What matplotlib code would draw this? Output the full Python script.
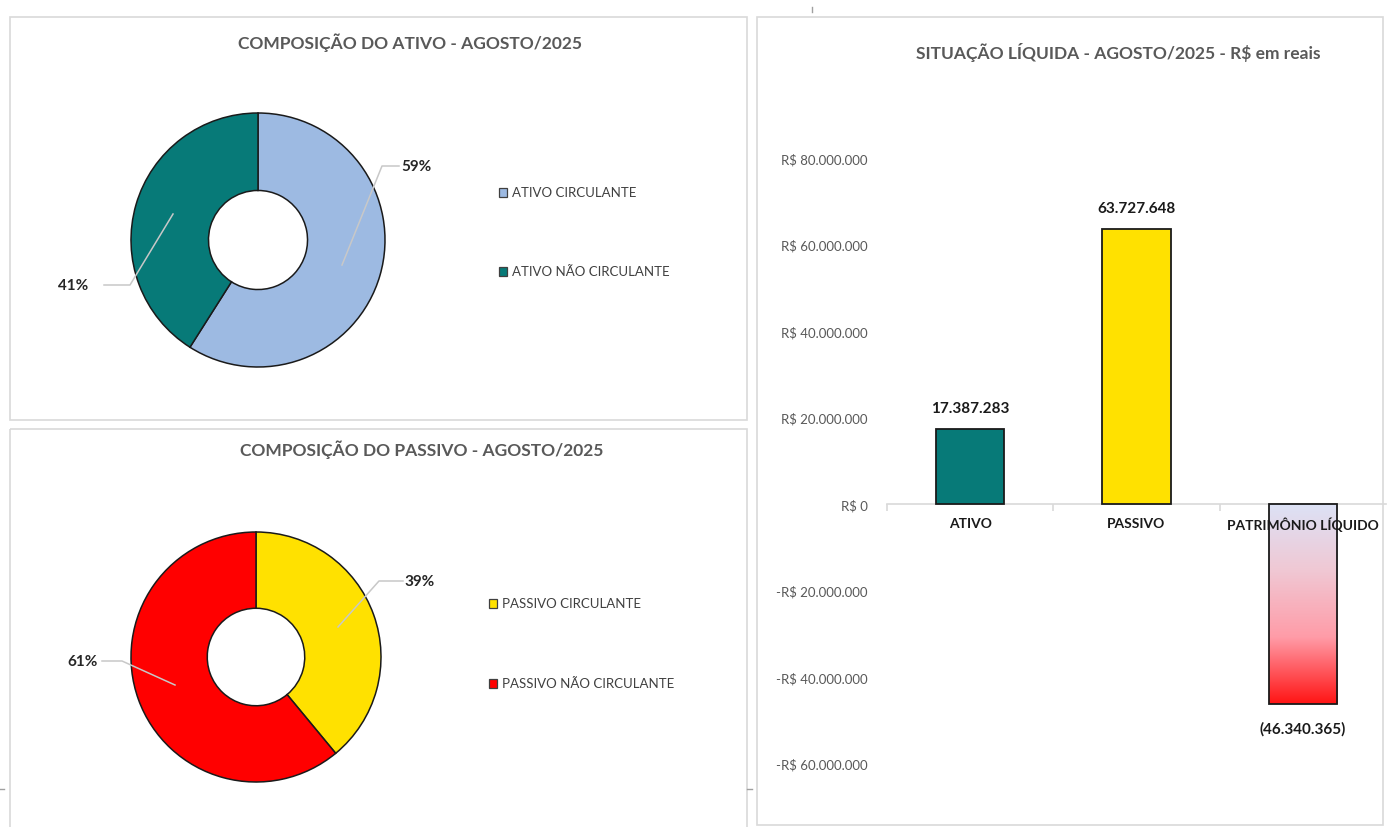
import numpy as np
import matplotlib
matplotlib.use("Agg")
import matplotlib.pyplot as plt
from matplotlib.patches import Rectangle
from matplotlib.colors import LinearSegmentedColormap

# ---------------- data ----------------
ativo_labels = ["ATIVO CIRCULANTE", "ATIVO NÃO CIRCULANTE"]
ativo_share = [59, 41]
ativo_colors = ["#9DBAE2", "#077A78"]

passivo_labels = ["PASSIVO CIRCULANTE", "PASSIVO NÃO CIRCULANTE"]
passivo_share = [39, 61]
passivo_colors = ["#FFE100", "#FF0000"]

bar_categories = ["ATIVO", "PASSIVO", "PATRIMÔNIO LÍQUIDO"]
bar_values = [17387283, 63727648, -46340365]
bar_value_labels = ["17.387.283", "63.727.648", "(46.340.365)"]
bar_colors = ["#077A78", "#FFE100", None]

yticks = [-60e6, -40e6, -20e6, 0, 20e6, 40e6, 60e6, 80e6]

title_ativo = "COMPOSIÇÃO DO ATIVO - AGOSTO/2025"
title_passivo = "COMPOSIÇÃO DO PASSIVO - AGOSTO/2025"
title_bar = "SITUAÇÃO LÍQUIDA - AGOSTO/2025 - R$ em reais"

FAM = ["Lato", "DejaVu Sans"]
plt.rcParams["font.family"] = FAM

W, H = 1388, 828
fig = plt.figure(figsize=(W / 100, H / 100), dpi=100)


def add_axes_px(x0, y0, x1, y1):
    return fig.add_axes([x0 / W, 1 - y1 / H, (x1 - x0) / W, (y1 - y0) / H])


# ---------------- background / panels ----------------
bg = add_axes_px(0, 0, W, H)
bg.set_xlim(0, W)
bg.set_ylim(H, 0)
bg.axis("off")
border = "#D9D9D9"
bg.add_patch(Rectangle((10, 18), 737, 403, fill=False, ec=border, lw=1.2))
bg.add_patch(Rectangle((10, 430), 737, 420, fill=False, ec=border, lw=1.2))
bg.add_patch(Rectangle((757, 18), 626, 808, fill=False, ec=border, lw=1.2))
bg.plot([812, 812], [8, 13], color="#A0A0A0", lw=1)
bg.plot([0, 4], [790, 790], color="#A0A0A0", lw=1)
bg.plot([747, 752], [790, 790], color="#A0A0A0", lw=1)

TITLE_C = "#595959"
TS = 12.5
bg.text(410, 43, title_ativo, ha="center", va="center", fontsize=TS,
        fontweight="bold", color=TITLE_C)
bg.text(422, 450, title_passivo, ha="center", va="center", fontsize=TS,
        fontweight="bold", color=TITLE_C)
bg.text(1118, 52, title_bar, ha="center", va="center", fontsize=TS,
        fontweight="bold", color=TITLE_C)

donut_axes = []


def donut(panel, center, radius, shares, colors, labels):
    px0, py0, px1, py1 = panel
    cx, cy = center
    ax = add_axes_px(px0, py0, px1, py1)
    ax.pie(shares, colors=colors, startangle=90, counterclock=False,
           radius=1.0,
           wedgeprops=dict(width=0.61, edgecolor="#1A1A1A", linewidth=1.1))
    ax.set_xlim((px0 - cx) / radius, (px1 - cx) / radius)
    ax.set_ylim(-(py1 - cy) / radius, (cy - py0) / radius)
    ax.set_aspect("auto")
    ax.axis("off")
    return ax


donut((10, 60, 480, 421), (258, 241), 127, ativo_share, ativo_colors,
      ativo_labels)
donut((10, 470, 480, 828), (256, 658), 125, passivo_share, passivo_colors,
      passivo_labels)

# ---------------- overlay for labels / legends ----------------
ov = add_axes_px(0, 0, W, H)
ov.set_xlim(0, W)
ov.set_ylim(H, 0)
ov.axis("off")
ov.patch.set_alpha(0)


def pct_labels(shares, lab_pos, leader_pts):
    for s, (lx, ly), pts in zip(shares, lab_pos, leader_pts):
        ov.plot([p[0] for p in pts], [p[1] for p in pts], color="#C8C8C8",
                lw=1.1, zorder=5)
        ov.text(lx, ly, f"{s}%", ha="center", va="center", fontsize=11,
                fontweight="bold", color="#262626", zorder=6)


def legend(colors, labels, legend_x, legend_ys):
    for c, lab, ly in zip(colors, labels, legend_ys):
        ov.add_patch(Rectangle((legend_x - 4, ly - 4.5), 8, 9, fc=c,
                               ec="#404040", lw=0.9, zorder=6))
        ov.text(legend_x + 9, ly, lab, ha="left", va="center", fontsize=9.5,
                color="#404040", zorder=6)


pct_labels(ativo_share, [(416, 167), (73, 286)],
           [[(342, 266), (382, 167), (399, 167)],
            [(173, 215), (130, 286), (104, 286)]])
legend(ativo_colors, ativo_labels, 503, [193, 272])

pct_labels(passivo_share, [(420, 582), (83, 662)],
           [[(338, 628), (379, 582), (403, 582)],
            [(175, 686), (122, 662), (102, 662)]])
legend(passivo_colors, passivo_labels, 493, [604, 684])

# ---------------- bar chart ----------------
ZERO_PX = 505.0
PX_PER_UNIT = (764.0 - 159.0) / 140e6
ax_top, ax_bot = 130, 800
ax_left, ax_right = 887, 1386
bax = add_axes_px(ax_left, ax_top, ax_right, ax_bot)
YLIM = ((ZERO_PX - ax_bot) / PX_PER_UNIT, (ZERO_PX - ax_top) / PX_PER_UNIT)
x = np.arange(len(bar_categories))
XLIM = (-0.5, len(bar_categories) - 0.5)
bax.patch.set_alpha(0)

bw = 0.41
bars = bax.bar(x, bar_values, width=bw,
               color=[c if c else "none" for c in bar_colors],
               edgecolor="#1A1A1A", linewidth=1.3, zorder=3)

grad_cmap = LinearSegmentedColormap.from_list(
    "pl", ["#DCE2F6", "#F0C8D4", "#FF9CA8", "#FF1414"])
for b, c in zip(bars, bar_colors):
    if c is None:
        x0b = b.get_x()
        y0b = b.get_y()
        h = b.get_height()
        grad = np.linspace(0, 1, 256).reshape(-1, 1)
        im = bax.imshow(grad, cmap=grad_cmap, aspect="auto",
                        extent=(x0b, x0b + b.get_width(), y0b + h, y0b),
                        origin="upper", zorder=2)
        im.set_clip_path(b)
bax.set_xlim(*XLIM)
bax.set_ylim(*YLIM)

for b, v, lab in zip(bars, bar_values, bar_value_labels):
    off = 15 if v >= 0 else -17
    bax.annotate(lab, (b.get_x() + b.get_width() / 2, v),
                 xytext=(0, off), textcoords="offset points",
                 ha="center", va="center", fontsize=11, fontweight="bold",
                 color="#1A1A1A", zorder=6)

for xi, cat in zip(x, bar_categories):
    bax.annotate(cat, (xi, 0), xytext=(0, -14), textcoords="offset points",
                 ha="center", va="center", fontsize=10, fontweight="bold",
                 color="#1A1A1A", zorder=6, annotation_clip=False)


def money(v):
    s = f"{abs(v):,.0f}".replace(",", ".")
    return ("-R$ " if v < 0 else "R$ ") + s


bax.set_yticks(yticks)
bax.set_yticklabels([money(v) for v in yticks], fontsize=9.5, color="#595959")
bax.tick_params(axis="y", length=0, pad=14)
for sp in ["left", "right", "top"]:
    bax.spines[sp].set_visible(False)
bax.spines["bottom"].set_position(("data", 0))
bax.spines["bottom"].set_color("#D9D9D9")
bax.spines["bottom"].set_linewidth(1.2)
bax.spines["bottom"].set_zorder(1)
bax.set_xticks(x)
bax.set_xticklabels([])
bax.tick_params(axis="x", which="major", length=0)
bax.set_xticks([-0.5, 0.5, 1.5], minor=True)
bax.tick_params(axis="x", which="minor", length=5, color="#D9D9D9",
                width=1.2)

fig.savefig("out.png", dpi=100, facecolor="white")
